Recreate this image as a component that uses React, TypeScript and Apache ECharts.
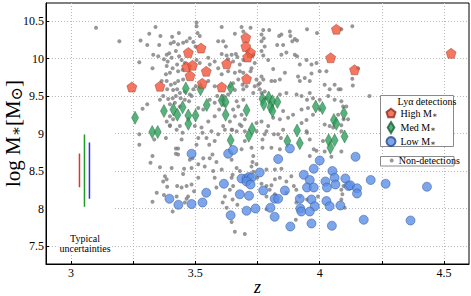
import React, { useEffect, useRef } from "react";
import * as echarts from "echarts";

const SERIF = '"Liberation Serif", "DejaVu Serif", serif';

const xTickValues = [3, 3.25, 3.5, 3.75, 4, 4.25, 4.5];
const xLabelValues = [3, 3.5, 4, 4.5];
const yTickValues = [7.5, 8, 8.5, 9, 9.5, 10, 10.5];

const highMass = [
  [3.245, 9.62], [3.358, 9.63], [3.472, 10.08], [3.523, 10.14], [3.465, 9.89],
  [3.489, 9.91], [3.479, 9.77], [3.544, 9.83], [3.528, 9.67], [3.606, 9.62],
  [3.703, 10.28], [3.703, 10.16], [3.722, 10.08], [3.71, 10.02], [3.626, 9.93],
  [3.706, 9.73], [4.067, 10.39], [4.044, 10.01], [4.14, 9.85], [4.528, 10.07],
];

const medMass = [
  [3.462, 9.6], [3.521, 9.59], [3.258, 9.21], [3.374, 9.3], [3.412, 9.32],
  [3.428, 9.25], [3.449, 9.35], [3.472, 9.24], [3.501, 9.24], [3.472, 9.13],
  [3.546, 9.38], [3.327, 9.02], [3.349, 9.02], [3.642, 9.61], [3.606, 9.44],
  [3.622, 9.42], [3.622, 9.25], [3.706, 9.31], [3.728, 9.06], [3.77, 9.46],
  [3.795, 9.48], [3.775, 9.39], [3.81, 9.43], [3.83, 9.42], [3.802, 9.35],
  [3.81, 9.3], [3.909, 9.04], [3.984, 9.36], [4.011, 9.34], [4.057, 9.18],
  [4.067, 9.13], [4.097, 9.27], [3.715, 8.97], [3.642, 8.91], [3.87, 8.9],
  [3.92, 8.87], [4.036, 8.91], [4.06, 8.91], [4.043, 8.81], [4.1, 8.96],
];

const lowMass = [
  [3.485, 8.73], [3.396, 8.13], [3.432, 8.05], [3.485, 8.06], [3.529, 8.08],
  [3.544, 8.21], [3.632, 8.73], [3.652, 8.78], [3.88, 8.8], [3.833, 8.66],
  [4.0, 8.64], [3.759, 8.48], [3.615, 8.33], [3.686, 8.4], [3.706, 8.4],
  [3.716, 8.42], [3.726, 8.41], [3.706, 8.36], [3.722, 8.32], [3.773, 8.24],
  [3.679, 8.19], [3.716, 8.17], [3.86, 8.24], [3.936, 8.45], [3.976, 8.53],
  [3.96, 8.38], [3.949, 8.28], [3.976, 8.28], [4.023, 8.36], [4.029, 8.28],
  [4.051, 8.5], [4.06, 8.41], [4.063, 8.32], [4.103, 8.4], [4.116, 8.3],
  [3.819, 8.13], [3.833, 8.13], [3.92, 8.13], [3.967, 8.12], [3.98, 8.03],
  [4.027, 8.1], [4.04, 8.03], [4.083, 8.04], [3.802, 8.01], [3.922, 8.0],
  [3.926, 7.96], [3.96, 7.96], [3.742, 8.0], [3.706, 7.97], [3.642, 7.91],
  [3.819, 7.89], [3.967, 7.8], [3.882, 7.76], [4.049, 7.77], [4.144, 8.69],
  [4.123, 8.31], [4.15, 8.27], [4.15, 8.2], [4.205, 8.38], [4.265, 8.33],
  [4.431, 8.29], [4.177, 7.85], [4.365, 7.84],
];

const nonDetections = [
  [3.101, 10.41], [3.195, 10.23], [3.34, 10.42], [3.315, 10.33], [3.36, 10.3],
  [3.28, 10.24], [3.307, 10.18], [3.355, 10.18], [3.407, 10.29], [3.434, 10.34],
  [3.414, 10.22], [3.401, 10.2], [3.431, 10.19], [3.451, 10.21], [3.465, 10.23],
  [3.478, 10.27], [3.505, 10.48], [3.505, 10.43], [3.509, 10.34], [3.518, 10.3],
  [3.492, 10.22], [3.501, 10.16], [3.331, 10.05], [3.351, 10.03], [3.385, 10.05],
  [3.395, 10.07], [3.374, 9.99], [3.389, 9.96], [3.405, 10.01], [3.422, 10.1],
  [3.435, 10.03], [3.445, 9.98], [3.427, 9.92], [3.275, 9.95], [3.328, 9.87],
  [3.385, 9.9], [3.409, 9.87], [3.398, 9.81], [3.382, 9.79], [3.431, 9.83],
  [3.449, 9.85], [3.458, 9.94], [3.505, 9.98], [3.518, 9.94], [3.552, 10.01],
  [3.558, 9.92], [3.578, 9.96], [3.592, 10.23], [3.592, 9.87], [3.365, 9.7],
  [3.385, 9.7], [3.402, 9.65], [3.418, 9.67], [3.431, 9.7], [3.451, 9.72],
  [3.387, 9.59], [3.411, 9.58], [3.427, 9.59], [3.438, 9.54], [3.458, 9.56],
  [3.478, 9.52], [3.492, 9.59], [3.502, 9.63], [3.552, 9.7], [3.578, 9.63],
  [3.371, 9.5], [3.391, 9.46], [3.409, 9.47], [3.422, 9.5], [3.441, 9.47],
  [3.458, 9.45], [3.475, 9.43], [3.485, 9.5], [3.358, 9.45], [3.307, 9.39],
  [3.288, 9.33], [3.398, 9.39], [3.418, 9.41], [3.438, 9.36], [3.512, 9.34],
  [3.532, 9.32], [3.558, 9.45], [3.578, 9.41], [3.588, 9.5], [3.596, 9.32],
  [3.398, 9.23], [3.385, 9.16], [3.411, 9.19], [3.398, 9.11], [3.438, 9.1],
  [3.498, 9.1], [3.525, 9.08], [3.552, 9.16], [3.565, 9.03], [3.578, 9.23],
  [3.606, 10.42], [3.612, 10.23], [3.659, 10.33], [3.686, 10.42], [3.693, 10.36],
  [3.722, 10.41], [3.623, 10.16], [3.606, 10.06], [3.626, 10.04], [3.646, 10.05],
  [3.663, 10.06], [3.632, 9.99], [3.652, 9.96], [3.669, 10.02], [3.679, 9.92],
  [3.693, 9.98], [3.733, 10.05], [3.739, 9.94], [3.726, 9.87], [3.722, 9.83],
  [3.606, 9.79], [3.632, 9.83], [3.659, 9.81], [3.679, 9.83], [3.693, 9.81],
  [3.673, 9.72], [3.652, 9.67], [3.639, 9.63], [3.69, 9.65], [3.706, 9.63],
  [3.693, 9.59], [3.659, 9.58], [3.632, 9.52], [3.666, 9.43], [3.673, 9.36],
  [3.693, 9.45], [3.733, 9.54], [3.739, 9.63], [3.753, 9.65], [3.759, 9.59],
  [3.766, 9.54], [3.779, 9.56], [3.773, 10.38], [3.797, 10.38], [3.766, 10.32],
  [3.775, 10.27], [3.766, 10.23], [3.779, 10.16], [3.766, 10.1], [3.773, 10.04],
  [3.793, 9.98], [3.829, 10.18], [3.837, 10.3], [3.846, 10.32], [3.853, 10.18],
  [3.88, 10.36], [3.882, 10.3], [3.89, 10.23], [3.9, 10.26], [3.909, 10.24],
  [3.949, 10.39], [3.989, 10.34], [3.866, 10.08], [3.846, 10.05], [3.9, 10.05],
  [3.909, 10.03], [3.92, 9.92], [3.947, 9.98], [3.967, 9.92], [3.987, 9.94],
  [4.0, 9.83], [4.027, 9.83], [3.813, 9.86], [3.86, 9.81], [3.84, 9.72],
  [3.82, 9.7], [3.806, 9.7], [3.913, 9.76], [3.92, 9.7], [3.94, 9.74],
  [3.96, 9.7], [3.967, 9.8], [3.759, 9.67], [3.786, 9.47], [3.84, 9.52],
  [3.866, 9.54], [3.907, 9.52], [3.927, 9.5], [3.949, 9.45], [3.96, 9.54],
  [3.973, 9.47], [4.04, 9.59], [4.06, 9.65], [4.076, 9.59], [4.02, 9.65],
  [4.0, 9.45], [4.034, 9.5], [4.06, 9.45], [4.087, 9.43], [4.107, 9.36],
  [3.853, 9.3], [3.873, 9.21], [3.893, 9.25], [3.927, 9.32], [3.953, 9.34],
  [3.927, 9.14], [3.947, 9.18], [3.973, 9.25], [4.0, 9.32], [4.02, 9.12],
  [4.04, 9.1], [4.074, 9.25], [4.094, 9.36], [4.087, 9.11], [4.114, 9.19],
  [3.639, 9.16], [3.659, 9.23], [3.679, 9.12], [3.699, 9.19], [3.746, 9.14],
  [3.766, 9.16], [3.793, 9.1], [3.813, 9.21], [3.84, 9.19], [3.646, 9.05],
  [3.612, 9.1], [3.699, 9.03], [3.746, 9.03], [3.853, 9.05], [3.947, 9.03],
  [4.054, 9.08], [3.766, 9.76], [3.773, 9.72], [3.746, 9.72], [3.606, 9.45],
  [3.615, 9.38], [3.652, 9.32], [3.612, 9.5], [3.686, 9.25],
  [4.131, 10.43], [4.087, 10.39], [4.131, 9.73], [4.133, 9.64], [4.154, 9.87],
  [4.084, 9.59], [4.2, 9.5], [4.096, 9.19], [4.087, 9.03],
  [3.275, 8.99], [3.275, 8.85], [3.335, 8.92], [3.382, 8.94], [3.398, 9.1],
  [3.425, 9.05], [3.449, 9.01], [3.445, 8.92], [3.422, 8.8], [3.431, 8.8],
  [3.422, 8.73], [3.431, 8.72], [3.328, 8.7], [3.32, 8.61], [3.358, 8.55],
  [3.405, 8.54], [3.455, 8.53], [3.451, 8.46], [3.485, 8.54], [3.478, 8.65],
  [3.489, 8.67], [3.505, 8.85], [3.512, 8.94], [3.529, 9.01], [3.545, 8.94],
  [3.556, 8.85], [3.578, 8.9], [3.592, 8.99], [3.532, 8.67], [3.512, 8.59],
  [3.538, 8.56], [3.558, 8.67], [3.569, 8.72], [3.585, 8.62], [3.572, 8.5],
  [3.578, 8.41], [3.585, 8.28], [3.512, 8.41], [3.378, 8.43], [3.385, 8.39],
  [3.371, 8.36], [3.387, 8.29], [3.427, 8.3], [3.445, 8.28], [3.465, 8.3],
  [3.485, 8.32], [3.495, 8.23], [3.471, 8.16], [3.465, 8.13], [3.425, 8.16],
  [3.345, 8.21], [3.374, 8.18], [3.328, 8.09], [3.409, 7.96], [3.458, 8.08],
  [3.619, 9.05], [3.648, 9.05], [3.666, 9.03], [3.686, 9.1], [3.699, 8.9],
  [3.686, 8.79], [3.726, 8.81], [3.646, 8.65], [3.666, 8.54], [3.733, 8.7],
  [3.73, 8.62], [3.746, 8.59], [3.726, 8.56], [3.606, 8.52], [3.65, 8.45],
  [3.646, 8.41], [3.679, 8.5], [3.733, 8.49], [3.77, 8.92], [3.77, 8.81],
  [3.779, 8.99], [3.786, 9.03], [3.816, 8.99], [3.806, 8.81], [3.84, 8.79],
  [3.844, 8.94], [3.833, 8.99], [3.949, 9.01], [3.96, 8.92], [3.976, 8.79],
  [3.987, 8.77], [3.96, 8.7], [4.013, 8.9], [4.02, 8.76], [4.047, 8.69],
  [4.087, 8.76], [3.786, 8.52], [3.82, 8.52], [3.846, 8.53], [3.886, 8.43],
  [3.84, 8.41], [3.866, 8.36], [3.896, 8.3], [3.82, 8.39], [3.806, 8.31],
  [3.799, 8.25], [3.786, 8.3], [3.766, 8.33], [3.749, 8.41], [3.652, 8.3],
  [3.639, 8.25], [3.619, 8.16], [3.65, 8.12], [3.669, 8.05], [3.61, 8.08],
  [3.626, 8.01], [3.786, 8.16], [3.82, 8.19], [3.866, 8.21], [3.906, 8.25],
  [3.92, 8.16], [3.906, 8.08], [3.949, 8.12], [3.993, 8.16], [3.786, 7.99],
  [3.904, 7.85], [3.646, 7.82], [3.659, 7.69], [3.699, 7.66], [4.087, 8.12],
  [4.1, 8.01], [4.087, 8.25], [4.091, 8.19], [4.096, 8.3],
];

const uncertaintyRed = [[3.0345, 8.284], [3.0345, 8.733]];
const uncertaintyGreen = [[3.0546, 8.023], [3.0546, 8.986]];
const uncertaintyBlue = [[3.0746, 8.13], [3.0746, 8.88]];

const PENTAGON = "path://M0,-10L9.51,-3.09L5.88,8.09L-5.88,8.09L-9.51,-3.09Z";
const TALL_DIAMOND = "path://M0,-6L3.6,0L0,6L-3.6,0Z";

const RED = "#f2553b";
const GREEN = "#2e9f5b";
const BLUE = "#5b8ee6";
const GRAY = "#7d7d7d";

export default function App() {
  const ref = useRef<HTMLDivElement>(null);
  useEffect(() => {
    if (!ref.current) return;
    const chart = echarts.init(ref.current, undefined, { renderer: "svg" });
    const errLine = (name: string, data: number[][], color: string) => ({
      name,
      type: "line",
      data,
      showSymbol: false,
      symbol: "none",
      silent: true,
      z: 6,
      lineStyle: { color, width: 1.5 },
    });
    chart.setOption({
      animation: false,
      grid: {
        left: 46,
        right: 2,
        top: 3,
        bottom: 32,
        outerBoundsMode: "none",
        containLabel: false,
        show: true,
        borderColor: "#000",
        borderWidth: 1,
        backgroundColor: "transparent",
      },
      xAxis: {
        type: "value",
        min: 2.9,
        max: 4.6,
        name: "z",
        nameLocation: "middle",
        nameGap: 14,
        nameMoveOverlap: false,
        nameTextStyle: { fontFamily: SERIF, fontStyle: "italic", fontSize: 18, color: "#000" },
        axisLine: { show: true, onZero: false, lineStyle: { color: "#000" } },
        axisTick: { show: true, inside: true, length: 3, customValues: xTickValues, lineStyle: { color: "#000" } },
        axisLabel: { customValues: xLabelValues, fontFamily: SERIF, fontSize: 12, color: "#000", margin: 3 },
        splitLine: { show: true, lineStyle: { color: "#b8b8b8", type: [1, 2], width: 1 } },
      },
      yAxis: {
        type: "value",
        min: 7.26,
        max: 10.74,
        name: "{a|log M}{s|∗}{a|[M}{o|⊙}{a|]}",
        nameLocation: "middle",
        nameGap: 22,
        nameMoveOverlap: false,
        nameTextStyle: {
          color: "#000",
          rich: {
            a: { fontFamily: SERIF, fontSize: 21, color: "#000" },
            s: { fontFamily: SERIF, fontSize: 15, color: "#000", padding: [6, 0, 0, 0] },
            o: { fontFamily: SERIF, fontSize: 16, color: "#000", padding: [6, 0, 0, 0] },
          },
        },
        axisLine: { show: true, onZero: false, lineStyle: { color: "#000" } },
        axisTick: { show: true, inside: true, length: 3, customValues: yTickValues, lineStyle: { color: "#000" } },
        axisLabel: { customValues: yTickValues, fontFamily: SERIF, fontSize: 12, color: "#000", margin: 2 },
        splitLine: { show: true, lineStyle: { color: "#b8b8b8", type: [1, 2], width: 1 } },
      },
      legend: [
        {
          left: 385.5,
          top: 107.8,
          orient: "vertical",
          itemWidth: 9,
          itemHeight: 11,
          itemGap: 2,
          padding: 0,
          selectedMode: false,
          textStyle: {
            fontFamily: SERIF,
            fontSize: 10,
            color: "#000",
            rich: {
              s: { fontFamily: SERIF, fontSize: 8, color: "#000", padding: [4, 0, 0, 0] },
            },
          },
          formatter: (name: string) => name.replace("*", "{s|∗}"),
          data: [
            { name: "High M*", icon: PENTAGON },
            { name: "Med M*", icon: TALL_DIAMOND },
            { name: "Low M*", icon: "circle" },
          ],
        },
        {
          left: 389.7,
          top: 155.5,
          orient: "vertical",
          itemWidth: 4,
          itemHeight: 4,
          padding: 0,
          selectedMode: false,
          textStyle: { fontFamily: SERIF, fontSize: 10, color: "#000", lineHeight: 10 },
          data: [{ name: "Non-detections", icon: "circle" }],
        },
      ],
      graphic: [
        {
          type: "rect",
          z: 1,
          silent: true,
          shape: { x: 47, y: 120, width: 68, height: 116 },
          style: { fill: "#fff" },
        },
        {
          type: "text",
          z: 1,
          silent: true,
          x: 85,
          y: 233,
          style: {
            text: "Typical\nuncertainties",
            fontFamily: SERIF,
            fontSize: 10,
            lineHeight: 10.5,
            fill: "#000",
            align: "center",
            verticalAlign: "top",
            backgroundColor: "#fff",
            padding: [0, 1, 0, 1],
          },
        },
        {
          type: "rect",
          z: 3,
          silent: true,
          shape: { x: 380.5, y: 95.5, width: 73, height: 51 },
          style: { fill: "#fff", stroke: "#8a8a8a", lineWidth: 1 },
        },
        {
          type: "text",
          z: 4,
          silent: true,
          x: 427,
          y: 101,
          style: {
            text: "Lyα detections",
            fontFamily: SERIF,
            fontSize: 10,
            fill: "#000",
            align: "center",
            verticalAlign: "middle",
          },
        },
        {
          type: "rect",
          z: 3,
          silent: true,
          shape: { x: 380.5, y: 156.5, width: 73.5, height: 9.5 },
          style: { fill: "#fff", stroke: "#8a8a8a", lineWidth: 1 },
        },
      ],
      series: [
        {
          name: "Non-detections",
          type: "scatter",
          data: nonDetections,
          symbol: "circle",
          symbolSize: 4,
          z: 2,
          itemStyle: { color: GRAY },
        },
        {
          name: "Med M*",
          type: "scatter",
          data: medMass,
          symbol: "diamond",
          symbolSize: [7, 13],
          z: 3,
          itemStyle: { color: GREEN, borderColor: "#1c5e36", borderWidth: 0.5 },
        },
        {
          name: "High M*",
          type: "scatter",
          data: highMass,
          symbol: PENTAGON,
          symbolSize: 10,
          z: 3,
          itemStyle: { color: RED, borderColor: "#8c2c1c", borderWidth: 0.5 },
        },
        {
          name: "Low M*",
          type: "scatter",
          data: lowMass,
          symbol: "circle",
          symbolSize: 9,
          z: 3,
          itemStyle: { color: BLUE, borderColor: "#2b4d8f", borderWidth: 0.6 },
        },
        errLine("Uncertainty red", uncertaintyRed, "#e83030"),
        errLine("Uncertainty green", uncertaintyGreen, "#1f9a22"),
        errLine("Uncertainty blue", uncertaintyBlue, "#2a33e6"),
      ],
    });
    return () => chart.dispose();
  }, []);
  return (
    <div
      ref={ref}
      style={{ position: "absolute", left: 0, top: 0, width: 471, height: 296, background: "#fff" }}
    />
  );
}
